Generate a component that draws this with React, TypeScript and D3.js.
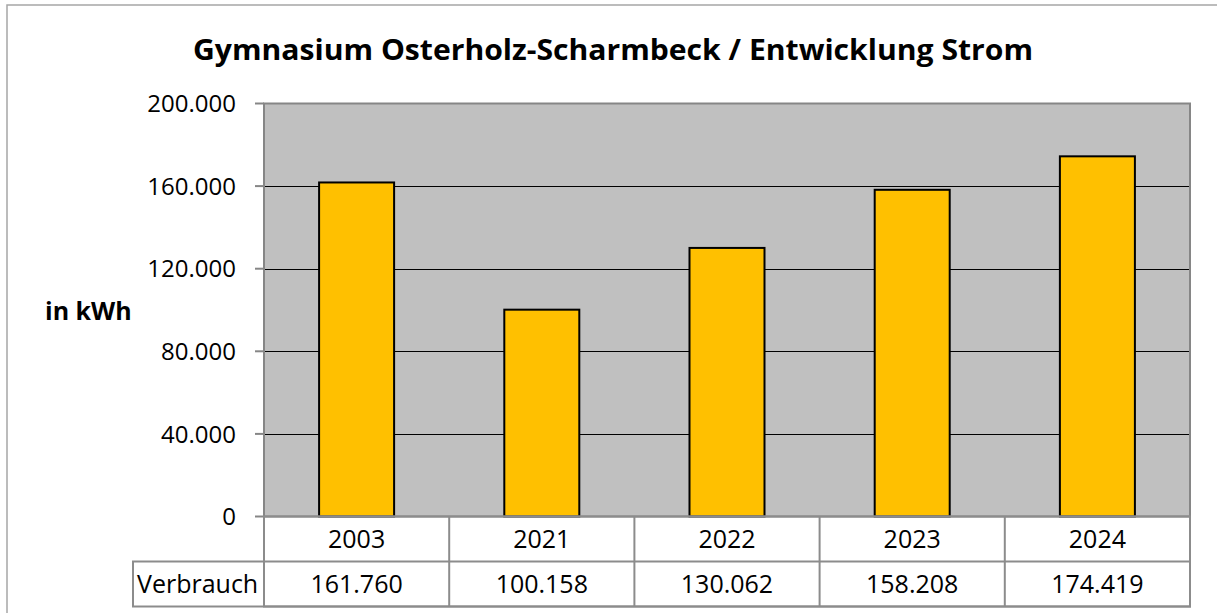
import React, { useEffect, useRef } from "react";
import * as d3 from "d3";

const title = "Gymnasium Osterholz-Scharmbeck / Entwicklung Strom";
const yLabel = "in kWh";
const rowLabel = "Verbrauch";
const categories = ["2003", "2021", "2022", "2023", "2024"];
const verbrauch = [161760, 100158, 130062, 158208, 174419];
const yTicks = [0, 40000, 80000, 120000, 160000, 200000];

const de = d3.formatLocale({
  decimal: ",",
  thousands: ".",
  grouping: [3],
  currency: ["", " €"],
});
const fmt = de.format(",");

export default function App() {
  const ref = useRef<SVGSVGElement>(null);

  useEffect(() => {
    document.body.style.margin = "0";
    const width = 1217,
      height = 613;
    const plot = { left: 264, right: 1190, top: 103.5, bottom: 516.5 };
    const rowH = 45;
    const tableLeft = 133;
    const font = "'Open Sans', 'Noto Sans', sans-serif";

    const svg = d3.select(ref.current);
    svg.selectAll("*").remove();
    svg.attr("width", width).attr("height", height);

    svg
      .append("rect")
      .attr("width", width)
      .attr("height", height)
      .attr("fill", "#fff");

    // outer chart border (right/bottom run off the picture)
    svg
      .append("rect")
      .attr("x", 7)
      .attr("y", 5)
      .attr("width", width + 20)
      .attr("height", height + 20)
      .attr("fill", "none")
      .attr("stroke", "#a6a6a6")
      .attr("stroke-width", 1.5);

    svg
      .append("text")
      .attr("x", 613)
      .attr("y", 60)
      .attr("text-anchor", "middle")
      .attr("font-family", font)
      .attr("font-weight", "bold")
      .attr("font-size", 28)
      .attr("textLength", 840)
      .attr("lengthAdjust", "spacingAndGlyphs")
      .text(title);

    const x = d3
      .scaleBand()
      .domain(categories)
      .range([plot.left, plot.right]);
    const xBar = d3
      .scaleBand()
      .domain(categories)
      .range([plot.left, plot.right])
      .paddingInner(0.595)
      .paddingOuter(0.2975);
    const y = d3
      .scaleLinear()
      .domain([0, 200000])
      .range([plot.bottom, plot.top]);

    svg
      .append("rect")
      .attr("x", plot.left)
      .attr("y", plot.top)
      .attr("width", plot.right - plot.left)
      .attr("height", plot.bottom - plot.top)
      .attr("fill", "#c0c0c0");

    // gridlines
    svg
      .append("g")
      .selectAll("line")
      .data(yTicks.filter((d) => d > 0 && d < 200000))
      .join("line")
      .attr("x1", plot.left)
      .attr("x2", plot.right)
      .attr("y1", (d) => Math.round(y(d)) + 0.5)
      .attr("y2", (d) => Math.round(y(d)) + 0.5)
      .attr("stroke", "#000")
      .attr("stroke-width", 1);

    // bars
    svg
      .append("g")
      .selectAll("rect")
      .data(verbrauch)
      .join("rect")
      .attr("x", (d, i) => xBar(categories[i]) as number)
      .attr("y", (d) => y(d))
      .attr("width", xBar.bandwidth())
      .attr("height", (d) => plot.bottom - y(d))
      .attr("fill", "#ffc000")
      .attr("stroke", "#000")
      .attr("stroke-width", 2);

    // plot border
    svg
      .append("rect")
      .attr("x", plot.left)
      .attr("y", plot.top)
      .attr("width", plot.right - plot.left)
      .attr("height", plot.bottom - plot.top)
      .attr("fill", "none")
      .attr("stroke", "#868686")
      .attr("stroke-width", 2);

    // y axis ticks and labels
    const yAxis = svg.append("g");
    yAxis
      .selectAll("line")
      .data(yTicks)
      .join("line")
      .attr("x1", 255)
      .attr("x2", plot.left)
      .attr("y1", (d) => y(d))
      .attr("y2", (d) => y(d))
      .attr("stroke", "#868686")
      .attr("stroke-width", 2);
    yAxis
      .selectAll("text")
      .data(yTicks)
      .join("text")
      .attr("x", 236)
      .attr("y", (d) => y(d))
      .attr("dy", "0.36em")
      .attr("text-anchor", "end")
      .attr("font-family", font)
      .attr("font-size", 24)
      .text((d) => fmt(d));

    svg
      .append("text")
      .attr("x", 45)
      .attr("y", 320)
      .attr("font-family", font)
      .attr("font-weight", "bold")
      .attr("font-size", 25)
      .text(yLabel);

    // data table
    const table = svg.append("g");
    const r1 = plot.bottom,
      r2 = plot.bottom + rowH,
      r3 = plot.bottom + 2 * rowH;
    const lineStyle = (s: any) =>
      s.attr("stroke", "#8c8c8c").attr("stroke-width", 2).attr("fill", "none");

    table
      .append("rect")
      .attr("x", tableLeft)
      .attr("y", r2)
      .attr("width", plot.right - tableLeft)
      .attr("height", rowH)
      .call(lineStyle);
    table
      .append("rect")
      .attr("x", plot.left)
      .attr("y", r1)
      .attr("width", plot.right - plot.left)
      .attr("height", 2 * rowH)
      .call(lineStyle);
    table
      .selectAll("line.sep")
      .data(categories.slice(1))
      .join("line")
      .attr("class", "sep")
      .attr("x1", (d) => x(d) as number)
      .attr("x2", (d) => x(d) as number)
      .attr("y1", r1)
      .attr("y2", r3)
      .call(lineStyle);

    table
      .selectAll("text.cat")
      .data(categories)
      .join("text")
      .attr("class", "cat")
      .attr("x", (d) => (x(d) as number) + x.bandwidth() / 2)
      .attr("y", (r1 + r2) / 2)
      .attr("dy", "0.36em")
      .attr("text-anchor", "middle")
      .attr("font-family", font)
      .attr("font-size", 25)
      .text((d) => d);

    table
      .selectAll("text.val")
      .data(verbrauch)
      .join("text")
      .attr("class", "val")
      .attr("x", (d, i) => (x(categories[i]) as number) + x.bandwidth() / 2)
      .attr("y", (r2 + r3) / 2)
      .attr("dy", "0.36em")
      .attr("text-anchor", "middle")
      .attr("font-family", font)
      .attr("font-size", 25)
      .text((d) => fmt(d));

    table
      .append("text")
      .attr("x", 137)
      .attr("y", (r2 + r3) / 2)
      .attr("dy", "0.36em")
      .attr("font-family", font)
      .attr("font-size", 25)
      .text(rowLabel);
  }, []);

  return <svg ref={ref} style={{ display: "block" }} />;
}
